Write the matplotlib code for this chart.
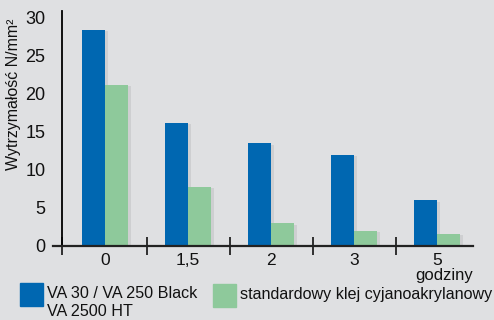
import matplotlib.pyplot as plt
import matplotlib.patheffects as pe
from matplotlib.patches import Rectangle
import numpy as np

plt.rcParams['font.family'] = ['Liberation Sans', 'DejaVu Sans']

categories = ['0', '1,5', '2', '3', '5']
va_values = [28.4, 16.2, 13.5, 12.0, 6.0]
std_values = [21.2, 7.8, 3.0, 2.0, 1.6]
series_labels = ['VA 30 / VA 250 Black', 'standardowy klej cyjanoakrylanowy']
blue = '#0067b1'
green = '#8ec99b'
bg = '#dfe0e2'

W, H = 494, 320
fig = plt.figure(figsize=(W / 100, H / 100), dpi=100, facecolor=bg)
ax = fig.add_axes([62 / W, 1 - 246 / H, 411 / W, 235 / H])
ax.set_facecolor('none')

x = np.arange(len(categories))
w = 0.277
shadow = [pe.SimplePatchShadow(offset=(2, -1), shadow_rgbFace='#707070', alpha=0.15), pe.Normal()]
ax.bar(x - w / 2, va_values, w, color=blue, path_effects=shadow, zorder=2)
ax.bar(x + w / 2, std_values, w, color=green, path_effects=shadow, zorder=2)

ax.set_xlim(-0.52, 4.43)
ax.set_ylim(0, 30.9)
for s in ['top', 'right']:
    ax.spines[s].set_visible(False)
ax.spines['bottom'].set_visible(False)
ax.spines['left'].set_linewidth(1.3)
ax.plot([-0.63, 4.43], [0, 0], color='#222222', lw=1.6, clip_on=False, zorder=3)

ax.set_yticks([0, 5, 10, 15, 20, 25, 30])
ax.tick_params(axis='y', length=0, pad=12, labelsize=13, labelcolor='#111111')
ax.set_xticks(x)
ax.set_xticklabels(categories)
ax.tick_params(axis='x', which='major', length=0, pad=5, labelsize=12.5, labelcolor='#111111')
ax.set_xticks([-0.52, 0.5, 1.5, 2.5, 3.5], minor=True)
ax.tick_params(axis='x', which='minor', direction='inout', length=13, width=1.3, color='#222222')

ax.text(4.08, -3.9, 'godziny', ha='center', va='center', fontsize=12, color='#111111')

fig.text(14 / W, 1 - 94 / H, 'Wytrzymałość N/mm²', rotation=90, ha='center', va='center',
         fontsize=11.5, color='#111111')

# legend
fig.add_artist(Rectangle((20 / W, 1 - 306 / H), 23 / W, 23 / H, transform=fig.transFigure,
                         color=blue))
fig.text(47 / W, 1 - 294 / H, series_labels[0], ha='left', va='center', fontsize=11.6, color='#111111')
fig.text(47 / W, 1 - 312 / H, 'VA 2500 HT', ha='left', va='center', fontsize=11.6, color='#111111')
fig.add_artist(Rectangle((213 / W, 1 - 307 / H), 23 / W, 23 / H, transform=fig.transFigure,
                         color=green))
fig.text(240 / W, 1 - 294 / H, series_labels[1], ha='left', va='center', fontsize=11.6, color='#111111')

fig.savefig('out.png', dpi=100, facecolor=bg)
